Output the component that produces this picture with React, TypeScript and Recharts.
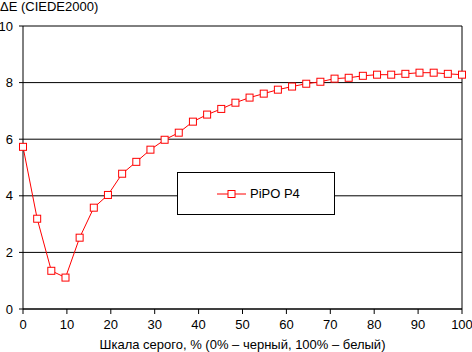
import { CartesianGrid, Customized, Label, Legend, Line, LineChart, ReferenceLine, XAxis, YAxis } from 'recharts'

// grey level steps (% of white), 32 measurements
const steps: number[] = [
  0, 3.23, 6.45, 9.68, 12.9, 16.13, 19.35, 22.58, 25.81, 29.03, 32.26, 35.48, 38.71, 41.94, 45.16, 48.39,
  51.61, 54.84, 58.06, 61.29, 64.52, 67.74, 70.97, 74.19, 77.42, 80.65, 83.87, 87.1, 90.32, 93.55, 96.77, 100
]

const deltaE: number[] = [
  5.73, 3.19, 1.35, 1.11, 2.52, 3.58, 4.03, 4.78, 5.2, 5.63, 5.98, 6.23, 6.62, 6.87, 7.07, 7.29,
  7.47, 7.61, 7.75, 7.86, 7.96, 8.03, 8.14, 8.17, 8.24, 8.28, 8.28, 8.31, 8.35, 8.35, 8.31, 8.28
]

const xTicks = [0, 10, 20, 30, 40, 50, 60, 70, 80, 90, 100]
const yTicks = [0, 2, 4, 6, 8, 10]

const seriesName = 'PiPO P4'
const xTitle = 'Шкала серого, % (0% – черный, 100% – белый)'
const yTitle = 'ΔE (CIEDE2000)'

const data = steps.map((x, i) => ({ x, de: deltaE[i] }))

const font = '"Liberation Sans", Arial, sans-serif'
const RED = '#ff0000'

const SquareDot = (props: any) => {
  const { cx, cy } = props
  if (cx == null || cy == null) return null
  return <rect x={cx - 3.5} y={cy - 3.5} width={7} height={7} fill="#fff" stroke={RED} strokeWidth={1} />
}

const LegendBox = () => (
  <div
    style={{
      width: 156,
      height: 41,
      border: '1px solid #000',
      background: '#fff',
      display: 'flex',
      alignItems: 'center',
      fontFamily: font,
      fontSize: 13,
      color: '#000'
    }}
  >
    <svg width={70} height={12} style={{ marginLeft: 0 }}>
      <line x1={39} y1={6} x2={68} y2={6} stroke={RED} strokeWidth={1} />
      <rect x={50} y={2.5} width={7} height={7} fill="#fff" stroke={RED} />
    </svg>
    <span style={{ marginLeft: 2 }}>{seriesName}</span>
  </div>
)

const YTitle = () => (
  <text x={0} y={11} fontFamily={font} fontSize={13} fill="#000">
    {yTitle}
  </text>
)

export default function App() {
  return (
    <div style={{ position: 'absolute', left: 0, top: 0 }}>
      <LineChart width={472} height={352} data={data} margin={{ top: 26, right: 10, bottom: 0, left: 0 }}>
        <CartesianGrid vertical={false} stroke="#000" strokeWidth={1} />
        <XAxis
          dataKey="x"
          type="number"
          domain={[0, 100]}
          ticks={xTicks}
          interval={0}
          stroke="#000"
          tickSize={5}
          tickMargin={6}
          height={43}
          tick={{ fill: '#000', fontSize: 13, fontFamily: font }}
        >
          <Label
            value={xTitle}
            position="insideBottom"
            offset={3}
            style={{ fill: '#000', fontSize: 13, fontFamily: font }}
          />
        </XAxis>
        <YAxis
          type="number"
          domain={[0, 10]}
          ticks={yTicks}
          interval={0}
          width={23}
          stroke="#000"
          tickSize={4}
          tickMargin={6}
          tick={{ fill: '#000', fontSize: 13, fontFamily: font }}
        />
        <ReferenceLine x={100} stroke="#000" strokeWidth={1} />
        <Legend
          layout="horizontal"
          verticalAlign="middle"
          align="center"
          content={<LegendBox />}
          wrapperStyle={{ left: 177, top: 172, width: 158, height: 43 }}
        />
        <Line
          type="linear"
          dataKey="de"
          name={seriesName}
          stroke={RED}
          strokeWidth={1}
          dot={<SquareDot />}
          activeDot={false}
          isAnimationActive={false}
        />
        <Customized component={YTitle} />
      </LineChart>
    </div>
  )
}
